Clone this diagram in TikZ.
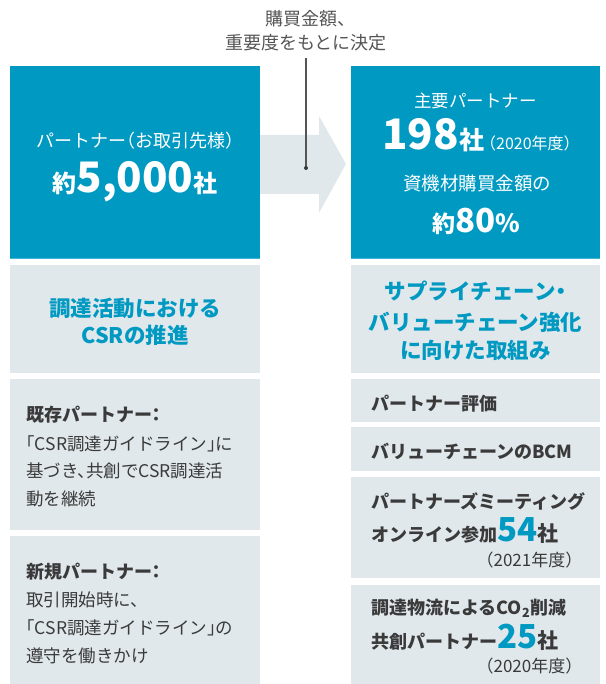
\documentclass[tikz,border=0pt]{standalone}
\usepackage{fontspec}
\setmainfont{Noto Sans CJK JP}[RawFeature=+halt]
\definecolor{csrblue}{HTML}{0099C2}
\definecolor{csredge}{HTML}{3FB3D6}
\definecolor{csrgray}{HTML}{E1E8EC}
\definecolor{csrtext}{HTML}{3A3A3A}
\definecolor{csrnote}{HTML}{555555}

\begin{document}
\begin{tikzpicture}[x=1pt, y=-1pt,
    panel/.style={anchor=north west, inner sep=0pt, outer sep=0pt},
    bluepanel/.style={panel, fill=csrblue},
    graypanel/.style={panel, fill=csrgray},
    txt/.style={inner sep=0pt, text=csrtext, font=\fontsize{17.5}{17.5}\selectfont},
    head/.style={txt, font=\fontsize{18}{18}\selectfont\bfseries},
    whitetxt/.style={inner sep=0pt, text=white, anchor=base},
    bluehead/.style={inner sep=0pt, text=csrblue, anchor=base, font=\fontsize{21.5}{21.5}\selectfont\bfseries},
    pickline/.style={draw=csrnote, line width=1.1pt}]

\useasboundingbox (0,0) rectangle (605,684);

\fill[csrgray] (260,135) -- (319,135) -- (319,116) -- (346,164) -- (319,213) -- (319,194) -- (260,194) -- cycle;

\node[bluepanel, minimum width=250pt, minimum height=193pt] (allpartners) at (10,66) {};
\node[bluepanel, minimum width=249pt, minimum height=193pt] (keypartners) at (351,66) {};
\draw[csredge, line width=1pt] ([yshift=0.5pt]allpartners.south west) -- ([yshift=0.5pt]allpartners.south east);
\draw[csredge, line width=1pt] ([yshift=0.5pt]keypartners.south west) -- ([yshift=0.5pt]keypartners.south east);

\node[graypanel, minimum width=250pt, minimum height=108pt] (csrtitle) at (10,265) {};
\node[graypanel, minimum width=250pt, minimum height=151pt] (existing) at (10,379) {};
\node[graypanel, minimum width=250pt, minimum height=148pt] (newcomers) at (10,536) {};

\node[graypanel, minimum width=249pt, minimum height=108pt] (chaintitle) at (351,265) {};
\node[graypanel, minimum width=249pt, minimum height=43pt] (evaluation) at (351,379) {};
\node[graypanel, minimum width=249pt, minimum height=44pt] (bcm) at (351,427) {};
\node[graypanel, minimum width=249pt, minimum height=101pt] (meeting) at (351,477) {};
\node[graypanel, minimum width=249pt, minimum height=99pt] (logistics) at (351,585) {};

\node[txt, anchor=base, text=csrnote, font=\fontsize{18}{18}\selectfont] (basisa) at (306,26) {購買金額、};
\node[txt, anchor=base, text=csrnote, font=\fontsize{18}{18}\selectfont] (basisb) at (306,50) {重要度をもとに決定};
\coordinate (pick) at (306,168);
\draw[pickline] ([yshift=-6pt]basisb.south) -- (pick);
\fill[csrtext] (pick) circle (2pt);

\node[whitetxt, font=\fontsize{18}{18}\selectfont] (allname) at (135,148) {パートナー（お取引先様）};
\node[whitetxt, font=\fontsize{24}{24}\selectfont\bfseries] (allcount) at (135,193) {約{\fontsize{42}{42}\selectfont 5,000}社};

\node[whitetxt, font=\fontsize{17.5}{17.5}\selectfont] (keyname) at (475.5,108) {主要パートナー};
\node[whitetxt, font=\fontsize{25}{25}\selectfont\bfseries] (keycount) at (477,150) {{\fontsize{42}{42}\selectfont 198}社\,{\fontsize{16}{16}\selectfont\mdseries （2020年度）}};
\node[whitetxt, font=\fontsize{18.5}{18.5}\selectfont] (sharename) at (477,191) {資機材購買金額の};
\node[whitetxt, font=\fontsize{23}{23}\selectfont\bfseries] (sharevalue) at (476,233) {約{\fontsize{33}{33}\selectfont 80}{\fontsize{25}{25}\selectfont\%}};

\node[bluehead] (csrtitlea) at (135,316) {調達活動における};
\node[bluehead] (csrtitleb) at (135,343) {CSRの推進};

\node[head, anchor=base west] (existinga) at (26,421) {既存パートナー：};
\node[txt, anchor=base west] (existingb) at (26,450) {「CSR調達ガイドライン」に};
\node[txt, anchor=base west] (existingc) at (26,477) {基づき、共創でCSR調達活};
\node[txt, anchor=base west] (existingd) at (26,505) {動を継続};

\node[head, anchor=base west] (newcomersa) at (26,578) {新規パートナー：};
\node[txt, anchor=base west] (newcomersb) at (26,606) {取引開始時に、};
\node[txt, anchor=base west] (newcomersc) at (26,634) {「CSR調達ガイドライン」の};
\node[txt, anchor=base west] (newcomersd) at (26,662) {遵守を働きかけ};

\node[bluehead] (chaintitlea) at (475.5,299) {サプライチェーン・};
\node[bluehead] (chaintitleb) at (475.5,330) {バリューチェーン強化};
\node[bluehead] (chaintitlec) at (475.5,358) {に向けた取組み};

\node[head, anchor=base west] (evaluationa) at (371,410) {パートナー評価};
\node[head, anchor=base west] (bcma) at (371,458) {バリューチェーンのBCM};

\node[head, anchor=base west] (meetinga) at (371,508) {パートナーズミーティング};
\node[head, anchor=base west] (meetingb) at (371,541) {オンライン参加\raisebox{0pt}[23pt][0pt]{\fontsize{33}{33}\selectfont\color{csrblue}54}{\fontsize{21}{21}\selectfont 社}};
\node[txt, anchor=base east, font=\fontsize{17}{17}\selectfont] (meetingc) at (574,566) {（2021年度）};

\node[head, anchor=base west] (logisticsa) at (371,614) {調達物流によるCO\textsubscript{2}削減};
\node[head, anchor=base west] (logisticsb) at (371,648) {共創パートナー\raisebox{0pt}[23pt][0pt]{\fontsize{33}{33}\selectfont\color{csrblue}25}{\fontsize{21}{21}\selectfont 社}};
\node[txt, anchor=base east, font=\fontsize{17}{17}\selectfont] (logisticsc) at (574,672) {（2020年度）};
\end{tikzpicture}
\end{document}
